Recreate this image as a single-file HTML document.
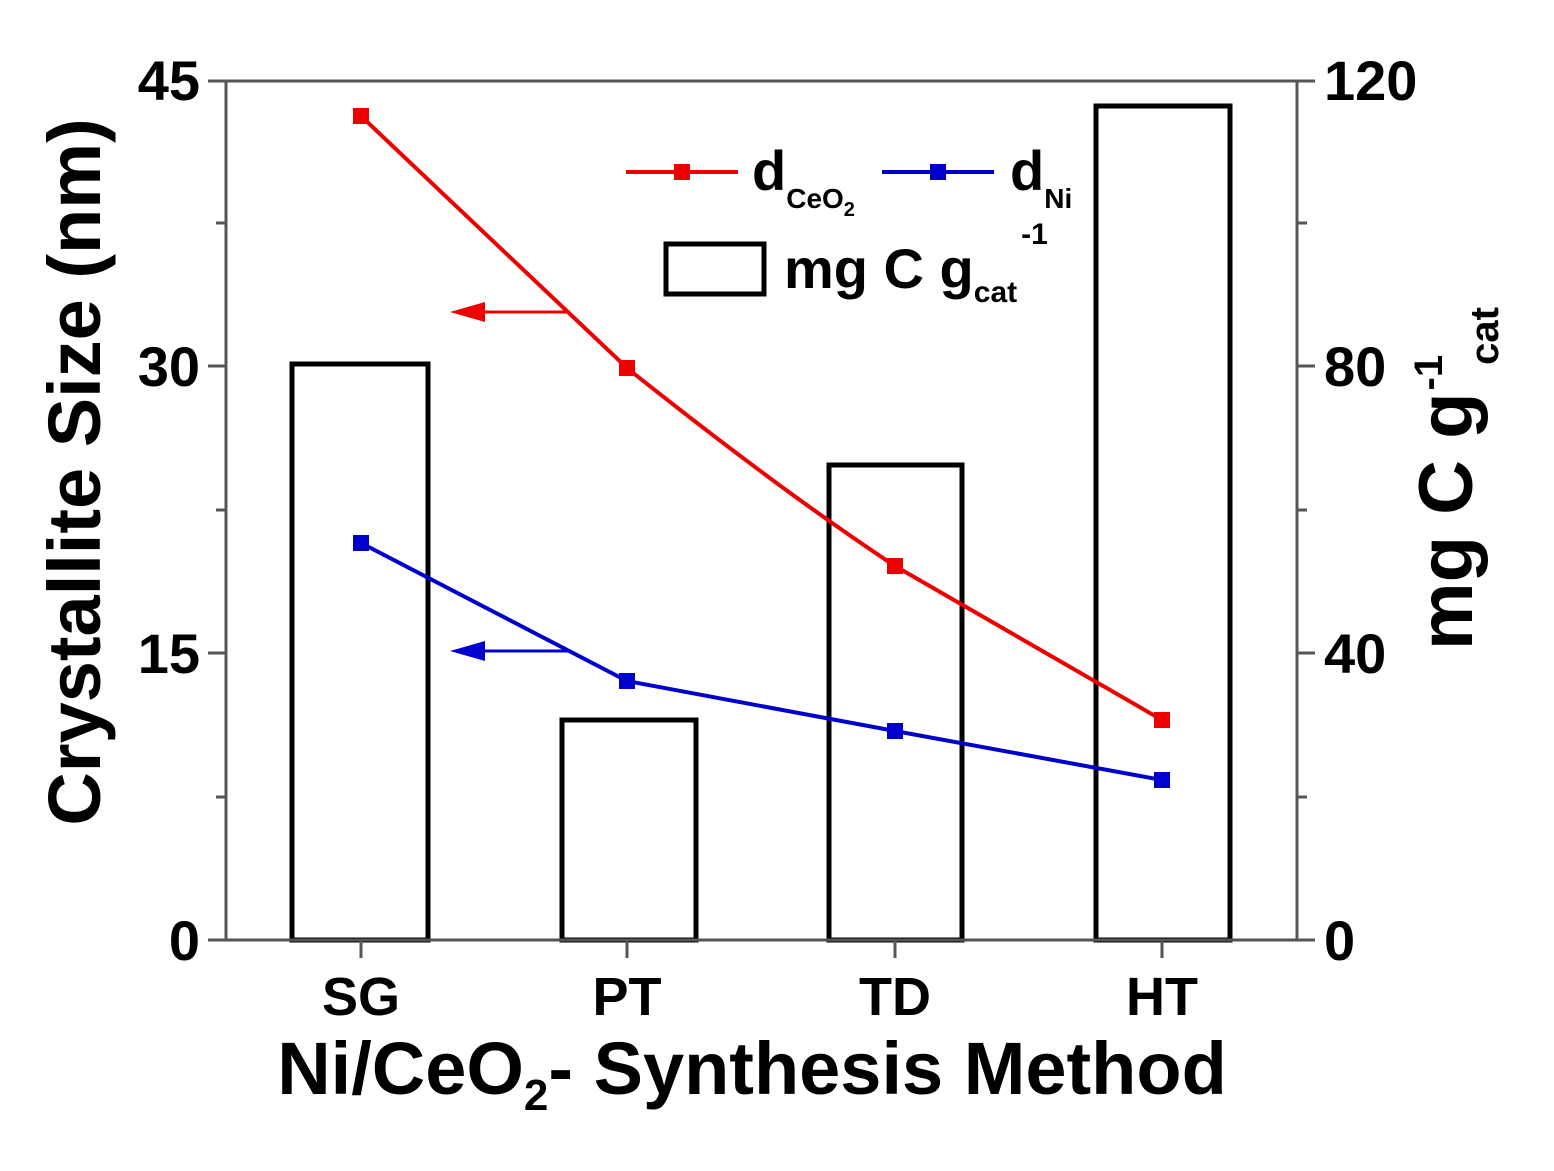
<!DOCTYPE html>
<html><head><style>body{margin:0;background:#fff}svg{display:block}</style></head><body>
<svg width="1554" height="1171" viewBox="0 0 1554 1171" xmlns="http://www.w3.org/2000/svg" font-family="Liberation Sans, Arial, sans-serif" font-weight="bold">
<rect width="1554" height="1171" fill="#fff"/>
<g fill="none" stroke="#000" stroke-width="5">
<rect x="292" y="364" width="136" height="576"/>
<rect x="562" y="720" width="134" height="220"/>
<rect x="829" y="465" width="133" height="475"/>
<rect x="1096" y="106" width="134" height="834"/>
</g>
<g stroke="#555" stroke-width="3" fill="none">
<line x1="226" y1="80" x2="226" y2="941"/>
<line x1="1297" y1="80" x2="1297" y2="941"/>
<line x1="208" y1="81" x2="1297" y2="81"/>
<line x1="226" y1="940" x2="1297" y2="940"/>
<line x1="208" y1="366" x2="226" y2="366"/>
<line x1="208" y1="653" x2="226" y2="653"/>
<line x1="208" y1="940" x2="226" y2="940"/>
<line x1="216" y1="223" x2="226" y2="223"/>
<line x1="216" y1="510" x2="226" y2="510"/>
<line x1="216" y1="797" x2="226" y2="797"/>
<line x1="1297" y1="81" x2="1315" y2="81"/>
<line x1="1297" y1="366" x2="1315" y2="366"/>
<line x1="1297" y1="653" x2="1315" y2="653"/>
<line x1="1297" y1="940" x2="1315" y2="940"/>
<line x1="1297" y1="223" x2="1307" y2="223"/>
<line x1="1297" y1="510" x2="1307" y2="510"/>
<line x1="1297" y1="797" x2="1307" y2="797"/>
<line x1="361" y1="940" x2="361" y2="958"/>
<line x1="627" y1="940" x2="627" y2="958"/>
<line x1="895" y1="940" x2="895" y2="958"/>
<line x1="1162" y1="940" x2="1162" y2="958"/>
</g>
<path d="M361,116 L627,368 Q780,490 895,566 L1162,720" fill="none" stroke="#e00" stroke-width="4"/>
<g fill="#e00"><rect x="353" y="108" width="16" height="16"/><rect x="619" y="360" width="16" height="16"/><rect x="887" y="558" width="16" height="16"/><rect x="1154" y="712" width="16" height="16"/></g>
<polyline points="361,543 627,681 895,731 1162,780" fill="none" stroke="#00c" stroke-width="4"/>
<g fill="#00c"><rect x="353" y="535" width="16" height="16"/><rect x="619" y="673" width="16" height="16"/><rect x="887" y="723" width="16" height="16"/><rect x="1154" y="772" width="16" height="16"/></g>
<line x1="480" y1="312" x2="570" y2="312" stroke="#e00" stroke-width="3"/>
<polygon points="450,312 485,302 485,322" fill="#e00"/>
<line x1="480" y1="651" x2="570" y2="651" stroke="#00c" stroke-width="3"/>
<polygon points="450,651 485,641 485,661" fill="#00c"/>
<g font-size="56" fill="#000" text-anchor="end">
<text x="200" y="100">45</text><text x="200" y="386">30</text><text x="200" y="673">15</text><text x="200" y="960">0</text>
</g>
<g font-size="56" fill="#000">
<text x="1324" y="100">120</text><text x="1324" y="386">80</text><text x="1324" y="673">40</text><text x="1324" y="960">0</text>
</g>
<g font-size="54" fill="#000" text-anchor="middle">
<text x="361" y="1015">SG</text><text x="627" y="1015">PT</text><text x="895" y="1015">TD</text><text x="1162" y="1015">HT</text>
</g>
<text x="752" y="1094" font-size="74" text-anchor="middle">Ni/CeO<tspan font-size="44" dy="16">2</tspan><tspan dy="-16">- Synthesis Method</tspan></text>
<text transform="translate(100,472) rotate(-90)" font-size="74" text-anchor="middle">Crystallite Size (nm)</text>
<text transform="translate(1472,650) rotate(-90)" font-size="76">mg C g<tspan font-size="40" dx="2" dy="-30">-1</tspan><tspan font-size="40" dx="-10" dy="56">cat</tspan></text>
<line x1="626" y1="172" x2="738" y2="172" stroke="#e00" stroke-width="4"/><rect x="674" y="164" width="16" height="16" fill="#e00"/>
<text x="752" y="190" font-size="56">d<tspan font-size="28" dy="18">CeO</tspan><tspan font-size="20" dy="8">2</tspan></text>
<line x1="882" y1="172" x2="994" y2="172" stroke="#00c" stroke-width="4"/><rect x="930" y="164" width="16" height="16" fill="#00c"/>
<text x="1010" y="190" font-size="56">d<tspan font-size="28" dy="18">Ni</tspan></text>
<rect x="666" y="244" width="98" height="50" fill="none" stroke="#000" stroke-width="5"/>
<text x="784" y="288" font-size="56">mg C g<tspan font-size="30" dy="14">cat</tspan><tspan font-size="30" dx="4" dy="-58">-1</tspan></text>
</svg>
</body></html>
